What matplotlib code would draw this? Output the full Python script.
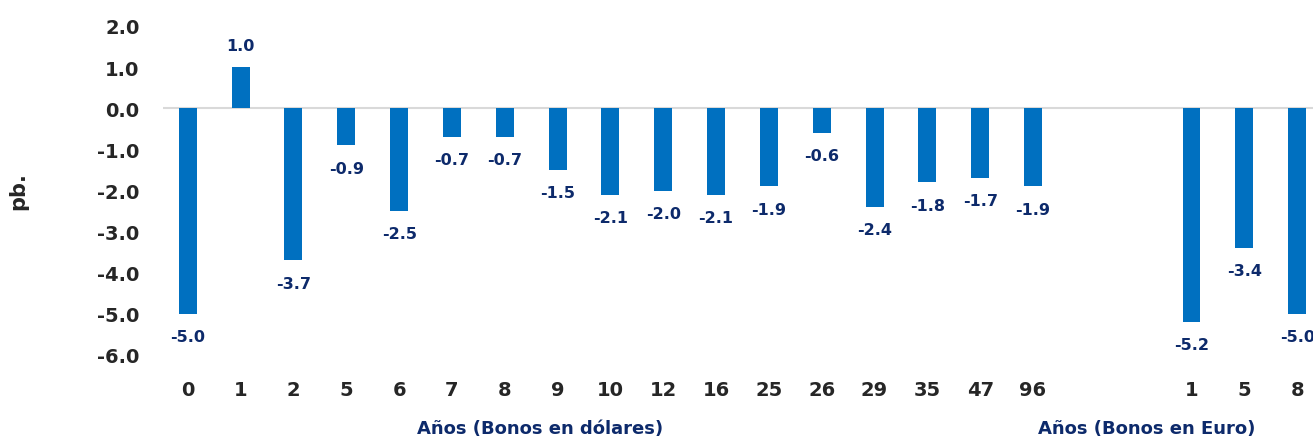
import numpy as np
import matplotlib.pyplot as plt

plt.rcParams['font.family'] = ['DejaVu Sans']

# datos
etiquetas_usd = ["0", "1", "2", "5", "6", "7", "8", "9", "10", "12", "16",
                 "25", "26", "29", "35", "47", "96"]
valores_usd = [-5.0, 1.0, -3.7, -0.9, -2.5, -0.7, -0.7, -1.5, -2.1, -2.0,
               -2.1, -1.9, -0.6, -2.4, -1.8, -1.7, -1.9]
etiquetas_eur = ["1", "5", "8"]
valores_eur = [-5.2, -3.4, -5.0]

azul = "#0070C0"
navy = "#0D2A6B"
gris = "#262626"

x_usd = np.arange(len(valores_usd))
x_eur = np.arange(len(valores_eur)) + len(valores_usd) + 2
x = np.concatenate([x_usd, x_eur])
vals = valores_usd + valores_eur
labs = etiquetas_usd + etiquetas_eur

fig = plt.figure(figsize=(13.13, 4.39), dpi=100)
ax = fig.add_axes([163/1313, 1-356/439, (1313-163)/1313, (356-27)/439])

ax.bar(x, vals, width=0.34, color=azul, zorder=2)
ax.axhline(0, color="#D9D9D9", lw=1.5, zorder=1)

for xi, v in zip(x, vals):
    if v >= 0:
        ax.annotate(f"{v:.1f}", (xi, v), xytext=(0, 10), textcoords="offset points",
                    ha="center", va="bottom", fontsize=11.5, fontweight="bold", color=navy)
    else:
        ax.annotate(f"{v:.1f}", (xi, v), xytext=(0, -11), textcoords="offset points",
                    ha="center", va="top", fontsize=11.5, fontweight="bold", color=navy)

ax.set_xlim(-0.47, 21.3)
ax.set_ylim(-6, 2)
ax.set_yticks(np.arange(-6, 2.1, 1))
ax.set_yticklabels([f"{t:.1f}" for t in np.arange(-6, 2.1, 1)])
ax.set_xticks(x)
ax.set_xticklabels(labs)
ax.tick_params(axis="both", length=0, colors=gris, labelsize=14)
ax.tick_params(axis="y", pad=17)
ax.tick_params(axis="x", pad=18)
for t in ax.get_xticklabels() + ax.get_yticklabels():
    t.set_fontweight("bold")
for s in ax.spines.values():
    s.set_visible(False)

ax.set_ylabel("pb.", fontsize=15, fontweight="bold", color=gris)
ax.yaxis.set_label_coords(-0.117, 0.5)

ax.text(6.67, -7.78, "Años (Bonos en dólares)", ha="center", va="center",
        fontsize=13, fontweight="bold", color=navy)
ax.text(18.16, -7.78, "Años (Bonos en Euro)", ha="center", va="center",
        fontsize=13, fontweight="bold", color=navy)

fig.savefig("out.png", dpi=100)
